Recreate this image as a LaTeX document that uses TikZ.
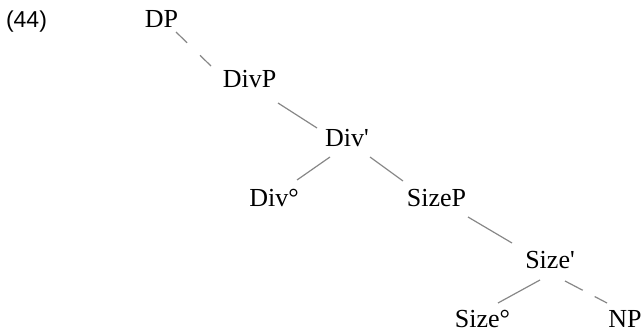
\documentclass[tikz,border=0pt]{standalone}
\usepackage{fontspec}
\setmainfont{Liberation Serif}
\newfontfamily\labelfont{Liberation Sans}
\begin{document}
\begin{tikzpicture}[x=1pt,y=-1pt,
  lab/.style={anchor=base,inner sep=0pt,font=\fontsize{26}{30}\selectfont},
  exlab/.style={anchor=base,inner sep=0pt,font=\labelfont\fontsize{23}{27}\selectfont},
  edge/.style={draw=black!47,line width=1.2pt},
  dashedge/.style={edge,dash pattern=on 15.5pt off 18pt},
  dashedge2/.style={edge,dash pattern=on 20pt off 13.5pt}]
\useasboundingbox (0,0) rectangle (642,331);
\node[exlab] (ex) at (26.5,28) {(44)};
\node[lab] (dp) at (161.5,28) {DP};
\node[lab] (divp) at (249.5,88) {DivP};
\node[lab] (divbar) at (347,147) {Div\textquotesingle};
\node[lab] (divo) at (274,207) {Div°};
\node[lab] (sizep) at (436.5,207) {SizeP};
\node[lab] (sizebar) at (550,268) {Size\textquotesingle};
\node[lab] (sizeo) at (482.5,327) {Size°};
\node[lab] (np) at (625,327) {NP};
\draw[dashedge] ([shift={(14.5,4)}]dp.base) -- ([shift={(-38.5,-22)}]divp.base);
\draw[edge] ([shift={(28.5,15)}]divp.base) -- ([shift={(-30,-19)}]divbar.base);
\draw[edge] ([shift={(-17,10)}]divbar.base) -- ([shift={(23,-27)}]divo.base);
\draw[edge] ([shift={(23,10)}]divbar.base) -- ([shift={(-33.5,-26)}]sizep.base);
\draw[edge] ([shift={(31.5,10)}]sizep.base) -- ([shift={(-38,-25)}]sizebar.base);
\draw[edge] ([shift={(-10,12)}]sizebar.base) -- ([shift={(15.5,-24)}]sizeo.base);
\draw[dashedge2] ([shift={(15,13)}]sizebar.base) -- ([shift={(-18,-24)}]np.base);
\end{tikzpicture}
\end{document}
